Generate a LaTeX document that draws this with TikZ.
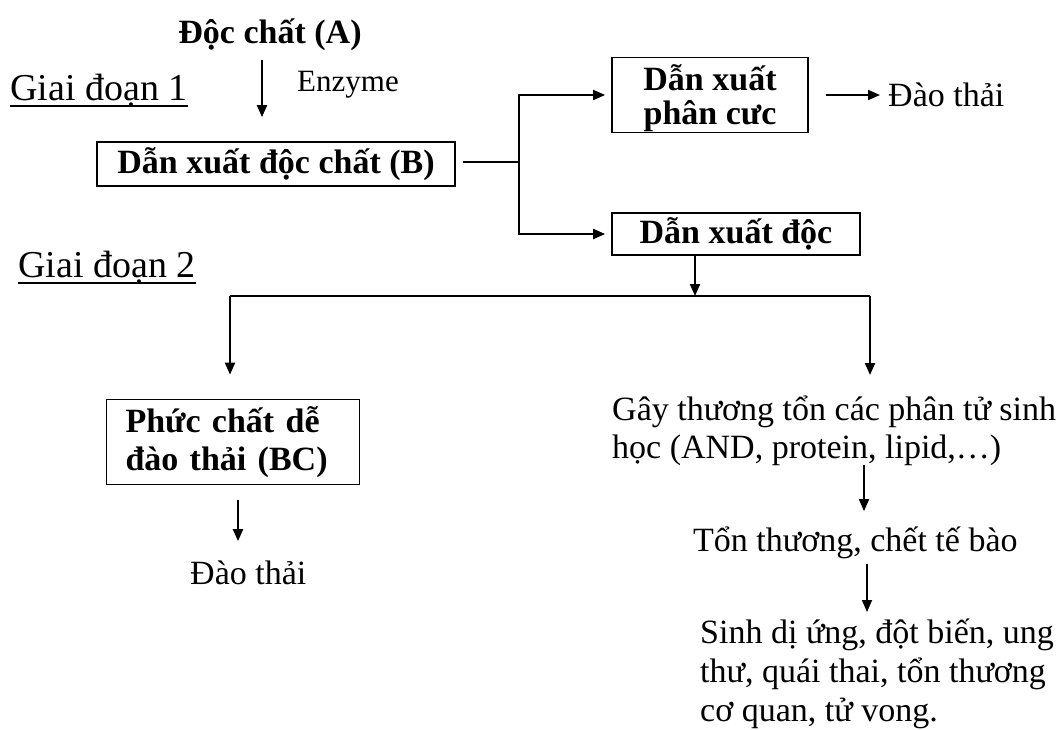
\documentclass[tikz,border=0pt]{standalone}
\usepackage{fontspec}
\setmainfont{Liberation Serif}
\usetikzlibrary{arrows.meta,calc}
\begin{document}
\begin{tikzpicture}[x=1pt,y=-1pt,
  txt/.style={font=\fontsize{34}{38}\selectfont, inner sep=0pt},
  bx/.style={draw, line width=1.8pt, font=\bfseries\fontsize{34}{34}\selectfont, inner sep=0pt},
  arr/.style={line width=2pt, -{Triangle[length=12pt,width=10pt]}},
  thinarr/.style={line width=1.5pt, -{Triangle[length=12pt,width=10pt]}},
  ln/.style={line width=2pt}]
\useasboundingbox (0,0) rectangle (1064,729);
% stage labels
\node[txt, font=\fontsize{38}{42}\selectfont, anchor=base west] (g1) at (10,100) {Giai đoạn 1};
\draw[ln] ($(g1.base west)+(0,6)$) -- ($(g1.base east)+(0,6)$);
\node[txt, font=\fontsize{38}{42}\selectfont, anchor=base west] (g2) at (18,277) {Giai đoạn 2};
\draw[ln] ($(g2.base west)+(0,6)$) -- ($(g2.base east)+(0,6)$);
% nodes
\node[txt, font=\bfseries\fontsize{34}{38}\selectfont, anchor=base] (A) at (270,43) {Độc chất (A)};
\node[txt, font=\fontsize{31}{36}\selectfont, anchor=base west] (enz) at (297,91) {Enzyme};
\node[bx, minimum width=358pt, minimum height=44pt] (B) at (276,164) {Dẫn xuất độc chất (B)};
\node[bx, minimum width=196pt, minimum height=75pt, align=center, text depth=0pt] (P) at (710,95) {Dẫn xuất\\phân cưc};
\node[bx, minimum width=248pt, minimum height=42pt] (D) at (736,234) {Dẫn xuất độc};
\node[txt, anchor=base west] (E1) at (888,106) {Đào thải};
\node[bx, minimum width=253pt, minimum height=85pt, align=left, text width=215pt, font=\bfseries\fontsize{34}{38}\selectfont] (BC) at (233,442) {Phức chất dễ\\đào thải (BC)};
\node[txt, anchor=base west] (E2) at (190,584) {Đào thải};
\node[txt, align=left, anchor=north west] (G) at (612,396) {Gây thương tổn các phân tử sinh\\học (AND, protein, lipid,\ldots)};
\node[txt, anchor=base west] (T) at (693,551) {Tổn thương, chết tế bào};
\node[txt, font=\fontsize{34}{39}\selectfont, align=left, anchor=north west] (S) at (700,619) {Sinh dị ứng, đột biến, ung\\thư, quái thai, tổn thương\\cơ quan, tử vong.};
% connectors
\draw[arr] ($(A.south)+(-8,10)$) -- ($(B.north)+(-14,-24)$);
\coordinate (J) at (519,162);
\draw[ln] ([xshift=7pt]B.east |- J) -- (J);
\draw[arr, shorten >=6pt] (J) |- (P.west);
\draw[arr, shorten >=6pt] (J) |- (D.west);
\draw[arr] ([xshift=17pt]P.east) -- ([xshift=-8pt]P.east -| E1.west);
\coordinate (H) at (695,296);
\coordinate (HL) at (230,296);
\coordinate (HR) at (870,296);
\draw[arr] (D.south -| H) -- (H);
\draw[ln] (HL) -- (HR);
\draw[arr] (HL) -- ($(HL |- BC.north)+(0,-24)$);
\draw[arr] (HR) -- ($(HR |- G.north)+(0,-21)$);
\draw[arr] ($(BC.south)+(5,15)$) -- ($(BC.south |- E2.north)+(5,-19)$);
\draw[thinarr] ($(G.south west)+(252,-1)$) -- ($(T.north west)+(171,-15)$);
\draw[thinarr] ($(T.south west)+(174,5)$) -- ($(S.north west)+(167,-7)$);
\end{tikzpicture}
\end{document}
